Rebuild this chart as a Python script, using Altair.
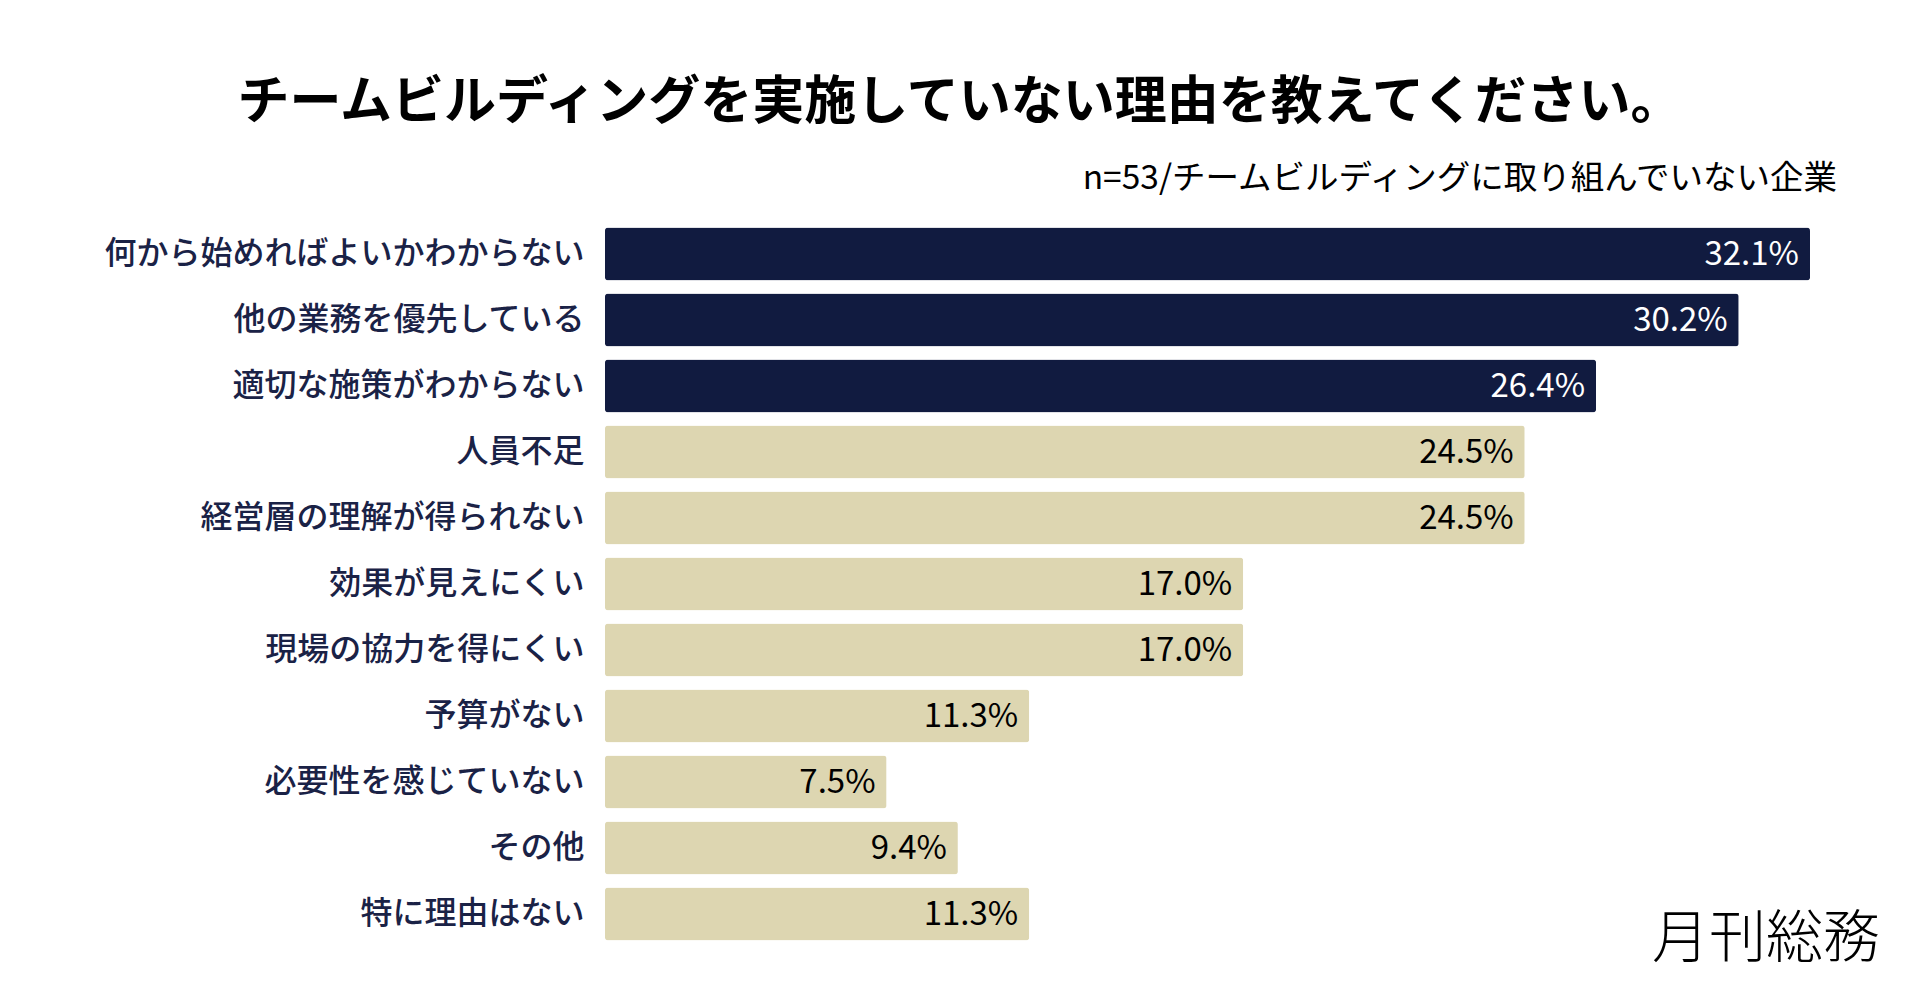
import altair as alt
import pandas as pd

categories = [
    "何から始めればよいかわからない",
    "他の業務を優先している",
    "適切な施策がわからない",
    "人員不足",
    "経営層の理解が得られない",
    "効果が見えにくい",
    "現場の協力を得にくい",
    "予算がない",
    "必要性を感じていない",
    "その他",
    "特に理由はない",
]
values = [32.1, 30.2, 26.4, 24.5, 24.5, 17.0, 17.0, 11.3, 7.5, 9.4, 11.3]
value_labels = ["32.1%", "30.2%", "26.4%", "24.5%", "24.5%", "17.0%", "17.0%",
                "11.3%", "7.5%", "9.4%", "11.3%"]

title_text = "チームビルディングを実施していない理由を教えてください。"
subtitle_text = "n=53/チームビルディングに取り組んでいない企業"
logo_text = "月刊総務"

DARK = "#111b40"
BEIGE = "#ddd6b1"
LABEL = "#1a2246"
FONT = "Noto Sans CJK JP"

df = pd.DataFrame({"category": categories, "value": values, "label": value_labels})

highlight = alt.datum.value >= 26.4

y_enc = alt.Y(
    "category:N",
    sort=categories,
    scale=alt.Scale(paddingInner=0.2, paddingOuter=0.1),
    axis=alt.Axis(
        title=None, ticks=False, domain=False, labelFont=FONT, labelFontSize=32,
        labelFontWeight=500, labelColor=LABEL, labelPadding=21, labelLimit=600,
    ),
)
x_enc = alt.X("value:Q", scale=alt.Scale(domain=[0, 32.1], nice=False), axis=None)

bars = alt.Chart(df).mark_bar(cornerRadius=3).encode(
    x=x_enc,
    y=y_enc,
    color=alt.condition(highlight, alt.value(DARK), alt.value(BEIGE)),
)

texts = alt.Chart(df).mark_text(
    align="right", baseline="middle", dx=-11, dy=1, font=FONT, fontSize=33
).encode(
    x=x_enc,
    y=alt.Y("category:N", sort=categories),
    text="label:N",
    color=alt.condition(highlight, alt.value("#ffffff"), alt.value("#000000")),
)

notes = pd.DataFrame({"t": [title_text]})
title = alt.Chart(notes).mark_text(
    align="center", baseline="alphabetic", font=FONT, fontSize=52,
    fontWeight="bold", color="#000000"
).encode(x=alt.value(355), y=alt.value(-102), text="t:N")

sub = alt.Chart(pd.DataFrame({"t": [subtitle_text]})).mark_text(
    align="right", baseline="alphabetic", font=FONT, fontSize=33.5, color="#000000"
).encode(x=alt.value(1232), y=alt.value(-32), text="t:N")

logo = alt.Chart(pd.DataFrame({"t": [logo_text]})).mark_text(
    align="right", baseline="alphabetic", font=FONT, fontSize=57, fontWeight=200,
    color="#000000"
).encode(x=alt.value(1275), y=alt.value(736), text="t:N")

chart = alt.layer(bars, texts, title, sub, logo).properties(
    width=1205,
    height=726,
    padding={"left": 597, "top": 213, "right": 90, "bottom": 50},
    autosize=alt.AutoSizeParams(type="none"),
    background="#ffffff",
).configure_view(stroke=None)

chart.save("out.html", embed_options={"renderer": "svg", "actions": False})
